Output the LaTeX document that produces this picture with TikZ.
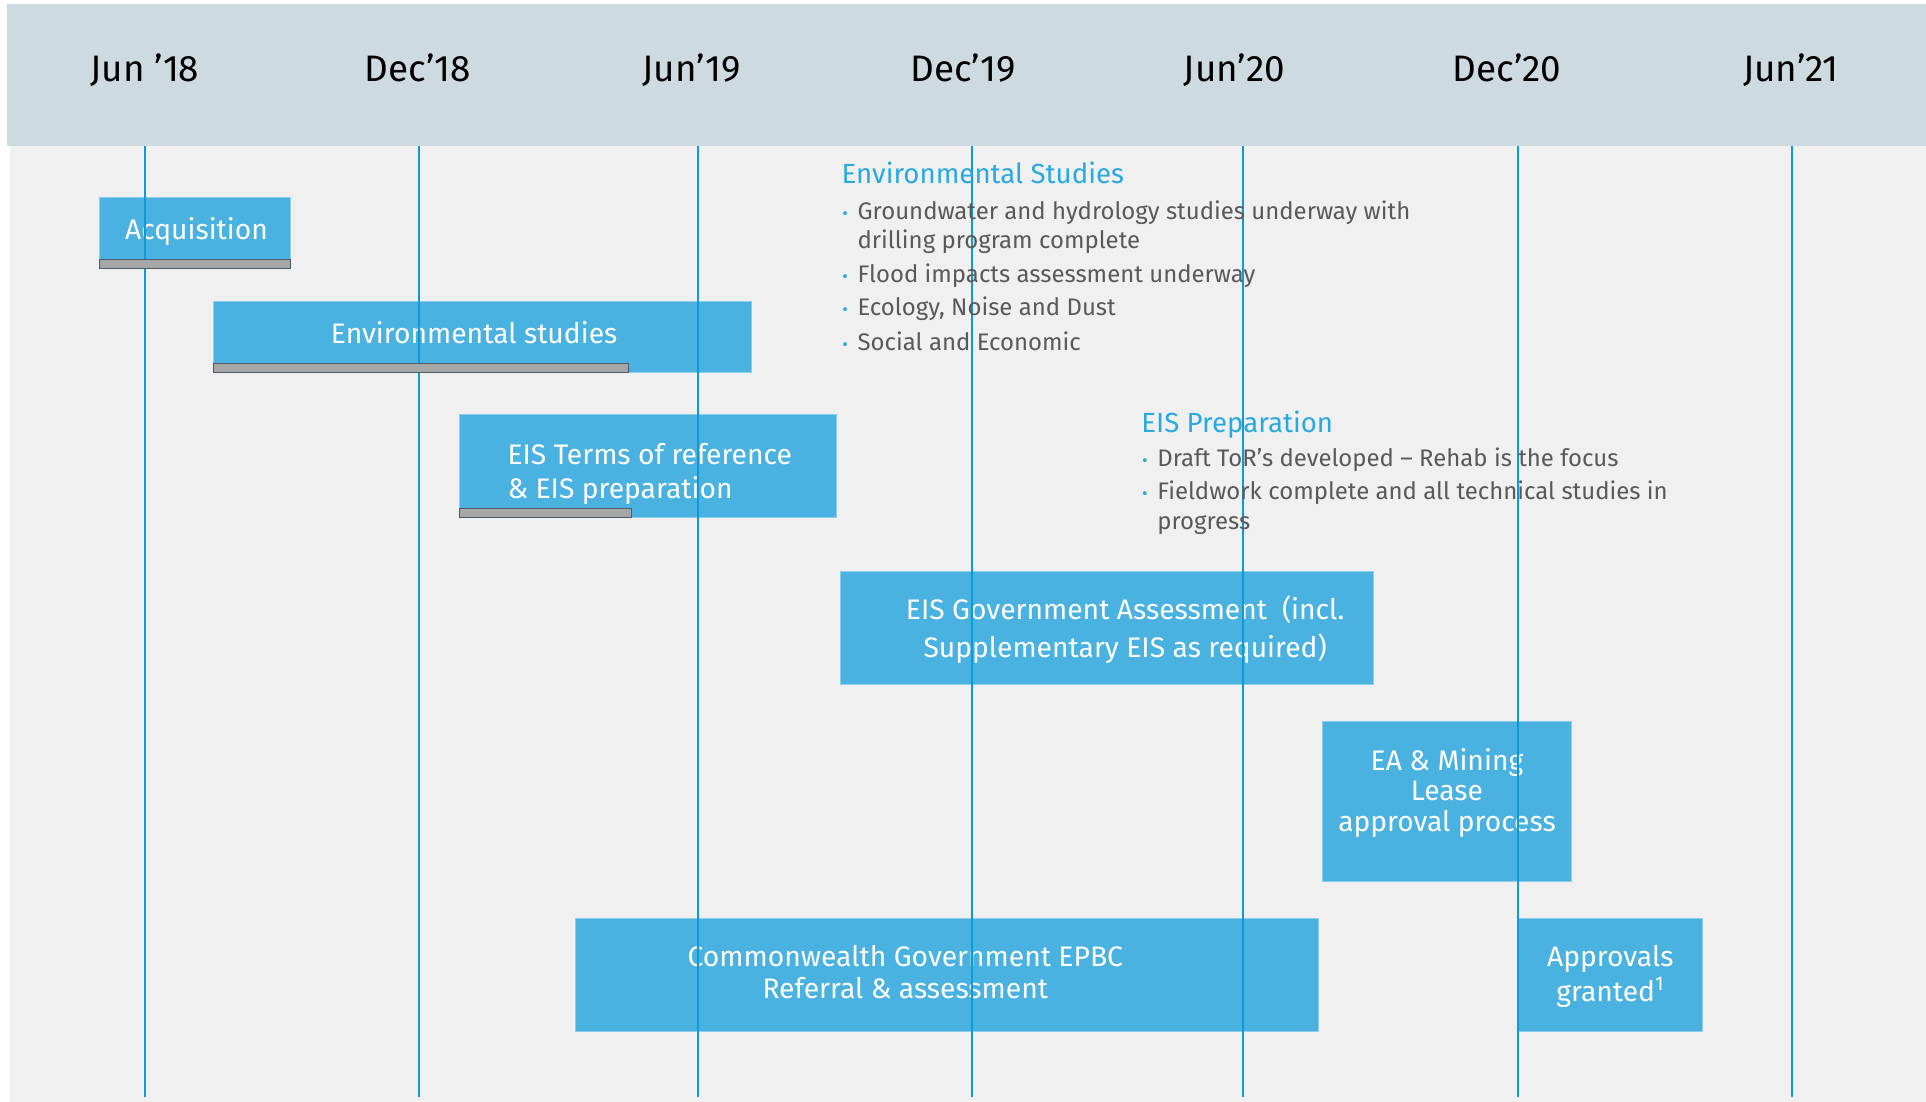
\documentclass[tikz,border=0pt]{standalone}
\usepackage{fontspec}
\setmainfont{Fira Sans}
\definecolor{hdr}{HTML}{CDDAE0}
\definecolor{bgc}{HTML}{F0F0F0}
\definecolor{boxc}{HTML}{4AB2E0}
\definecolor{boxedge}{HTML}{8FCBEA}
\definecolor{vlc}{HTML}{0B9BD9}
\definecolor{headc}{HTML}{29A9E0}
\definecolor{txtc}{HTML}{595959}
\definecolor{barc}{HTML}{A6A6A6}
\definecolor{baredge}{HTML}{4F5B66}
\tikzset{
  datelbl/.style={anchor=base, inner sep=0, font=\fontsize{30}{34}\selectfont, text=black},
  taskbox/.style={rectangle, fill=boxc, draw=boxedge, line width=0.6pt, anchor=north west, inner sep=0},
  boxtext/.style={anchor=base, inner sep=0, text=white, align=center},
  progbar/.style={rectangle, fill=barc, draw=baredge, line width=0.8pt, anchor=south west, inner sep=0, minimum height=7pt},
  vline/.style={draw=vlc, line width=1.8pt},
  notehead/.style={anchor=base west, inner sep=0, text=headc, font=\fontsize{22.5}{26}\selectfont},
  notetext/.style={anchor=base west, inner sep=0, text=txtc, font=\fontsize{19.5}{24}\selectfont},
  dot/.style={anchor=base, inner sep=0, text=headc, font=\fontsize{14}{16}\selectfont}
}
\begin{document}
\begin{tikzpicture}[x=1pt,y=-1pt]
\useasboundingbox (0,0) rectangle (1568,897);
\fill[white] (0,0) rectangle (1568,897);
\fill[bgc] (8,119) rectangle (1568,897);
\fill[hdr] (6,3) rectangle (1568,119);

% header dates
\node[datelbl] (d1) at (118,66) {Jun ’18};
\node[datelbl] (d2) at (340,66) {Dec’18};
\node[datelbl] (d3) at (563,66) {Jun’19};
\node[datelbl] (d4) at (784,66) {Dec’19};
\node[datelbl] (d5) at (1005,66) {Jun’20};
\node[datelbl] (d6) at (1227,66) {Dec’20};
\node[datelbl] (d7) at (1458,66) {Jun’21};

% task boxes
\node[taskbox, minimum width=155pt, minimum height=58pt] (acq) at (81,160) {};
\node[taskbox, minimum width=438pt, minimum height=58pt] (env) at (173,245) {};
\node[taskbox, minimum width=307pt, minimum height=84pt] (tor) at (374,337) {};
\node[taskbox, minimum width=434pt, minimum height=92pt] (gov) at (684,465) {};
\node[taskbox, minimum width=203pt, minimum height=130pt] (ea) at (1076,587) {};
\node[taskbox, minimum width=605pt, minimum height=92pt] (epbc) at (468,747) {};
\node[taskbox, minimum width=151pt, minimum height=92pt] (appr) at (1235,747) {};

% box texts (base anchor = baseline of the last line)
\node[boxtext, font=\fontsize{23}{27}\selectfont] (acqt) at (160,195) {Acquisition};
\node[boxtext, font=\fontsize{23}{27}\selectfont] (envt) at (386,280) {Environmental studies};
\node[boxtext, anchor=base west, align=left, font=\fontsize{23}{28}\selectfont] (tort) at (413,406) {EIS Terms of reference\\\& EIS preparation};
\node[boxtext, font=\fontsize{23}{31}\selectfont] (govt) at (916,535) {EIS Government Assessment~~(incl.\\Supplementary EIS as required)};
\node[boxtext, font=\fontsize{23}{25}\selectfont] (eat) at (1178,677) {EA \& Mining\\Lease\\approval process};
\node[boxtext, font=\fontsize{23}{26}\selectfont] (epbct) at (737,813) {Commonwealth Government EPBC\\Referral \& assessment};
\node[boxtext, font=\fontsize{23}{28}\selectfont] (apprt) at (1311,815) {Approvals\\granted\textsuperscript{1}};

% vertical month lines
\foreach \i/\x in {1/118,2/341,3/568,4/791,5/1012,6/1236,7/1459}{
  \coordinate (t\i) at (\x,119);
  \coordinate (b\i) at (\x,893);
  \draw[vline] (t\i) -- (b\i);
}

% progress bars
\node[progbar, minimum width=155pt] (acqbar) at (acq.south west) {};
\node[progbar, minimum width=338pt] (envbar) at (env.south west) {};
\node[progbar, minimum width=140pt] (torbar) at (tor.south west) {};

% notes: Environmental Studies
\node[notehead] (nh1) at (685,149) {Environmental Studies};
\node[dot] (n1d) at (688,179) {•};
\node[notetext] (n1a) at (698,179) {Groundwater and hydrology studies underway with};
\node[notetext] (n1b) at (698,202) {drilling program complete};
\node[dot] (n2d) at (688,230) {•};
\node[notetext] (n2) at (698,230) {Flood impacts assessment underway};
\node[dot] (n3d) at (688,257) {•};
\node[notetext] (n3) at (698,257) {Ecology, Noise and Dust};
\node[dot] (n4d) at (688,285) {•};
\node[notetext] (n4) at (698,285) {Social and Economic};

% notes: EIS Preparation
\node[notehead] (nh2) at (929,352) {EIS Preparation};
\node[dot] (p1d) at (932,380) {•};
\node[notetext] (p1) at (942,380) {Draft ToR’s developed – Rehab is the focus};
\node[dot] (p2d) at (932,407) {•};
\node[notetext] (p2a) at (942,407) {Fieldwork complete and all technical studies in};
\node[notetext] (p2b) at (942,431) {progress};
\end{tikzpicture}
\end{document}
